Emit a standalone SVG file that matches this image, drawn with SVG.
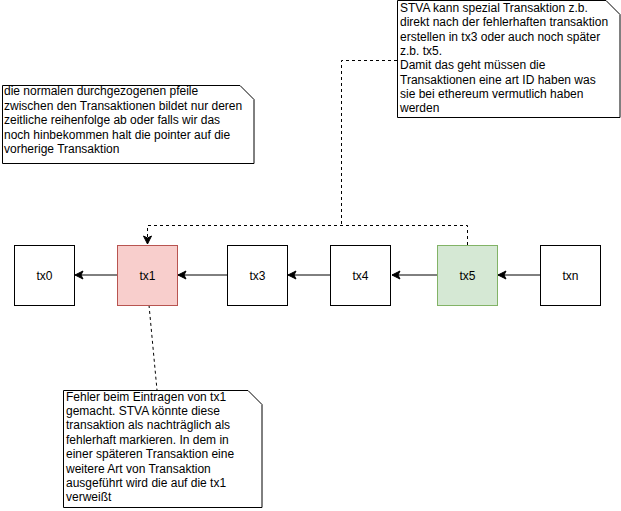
<svg xmlns="http://www.w3.org/2000/svg" width="621" height="511" viewBox="0 0 621 511">
<style>
.box{fill:#ffffff;stroke:#000000;stroke-width:1}
.red{fill:#f8cecc;stroke:#b85450}
.green{fill:#d5e8d4;stroke:#82b366}
.lbl{font-family:"Liberation Sans",Arial,sans-serif;font-size:12px;fill:#000000;text-anchor:middle}
.txt{font-family:"Liberation Sans",Arial,sans-serif;font-size:12px;fill:#000000}
.note{fill:#ffffff;stroke:#000000;stroke-width:1}
.edge{fill:none;stroke:#000000;stroke-width:1}
.dash{stroke-dasharray:3 3}
</style>
<defs>
<marker id="arr" markerUnits="userSpaceOnUse" viewBox="-9 -5 10 10" refX="0" refY="0" markerWidth="10" markerHeight="10" orient="auto">
<path d="M0,0 L-8,-4 L-6,0 L-8,4 Z" fill="#000000" stroke="#000000" stroke-width="1"/>
</marker>
</defs>
<rect width="621" height="511" fill="#ffffff"/>
<g id="connectors">
<path class="edge" d="M117,275 H75" marker-end="url(#arr)"/>
<path class="edge" d="M227,275 H178" marker-end="url(#arr)"/>
<path class="edge" d="M330,275 H288" marker-end="url(#arr)"/>
<path class="edge" d="M437,275 H392" marker-end="url(#arr)"/>
<path class="edge" d="M540,275 H498" marker-end="url(#arr)"/>
<path class="edge dash" d="M467.5,245 V225.5 H147.5 V244" marker-end="url(#arr)"/>
<path class="edge dash" d="M397,60.5 H341.5 V225"/>
<path class="edge dash" d="M149,305 L157,390"/>
</g>
<g id="tx0"><rect class="box" x="14.5" y="245.5" width="60" height="60"/><text class="lbl" x="44.5" y="279.5">tx0</text></g>
<g id="tx1"><rect class="box red" x="117.5" y="245.5" width="60" height="60"/><text class="lbl" x="147.5" y="279.5">tx1</text></g>
<g id="tx3"><rect class="box" x="227.5" y="245.5" width="60" height="60"/><text class="lbl" x="257.5" y="279.5">tx3</text></g>
<g id="tx4"><rect class="box" x="330.5" y="245.5" width="60" height="60"/><text class="lbl" x="360.5" y="279.5">tx4</text></g>
<g id="tx5"><rect class="box green" x="437.5" y="245.5" width="60" height="60"/><text class="lbl" x="467.5" y="279.5">tx5</text></g>
<g id="txn"><rect class="box" x="540.5" y="245.5" width="60" height="60"/><text class="lbl" x="570.5" y="279.5">txn</text></g>
<g id="note1">
<path class="note" d="M397.5,0.5 H606 L620,14.5 V117.5 H397.5 Z"/>
<text class="txt">
<tspan x="400" y="12">STVA kann spezial Transaktion z.b.</tspan>
<tspan x="400" y="26.3">direkt nach der fehlerhaften transaktion</tspan>
<tspan x="400" y="40.6">erstellen in tx3 oder auch noch später</tspan>
<tspan x="400" y="54.9">z.b. tx5.</tspan>
<tspan x="400" y="69.2">Damit das geht müssen die</tspan>
<tspan x="400" y="83.5">Transaktionen eine art ID haben was</tspan>
<tspan x="400" y="97.8">sie bei ethereum vermutlich haben</tspan>
<tspan x="400" y="112.1">werden</tspan>
</text>
</g>
<g id="note2">
<path class="note" d="M2.5,85.5 H240 L254,99.5 V163.5 H2.5 Z"/>
<text class="txt">
<tspan x="4" y="95">die normalen durchgezogenen pfeile</tspan>
<tspan x="4" y="109.5">zwischen den Transaktionen bildet nur deren</tspan>
<tspan x="4" y="124">zeitliche reihenfolge ab oder falls wir das</tspan>
<tspan x="4" y="138.5">noch hinbekommen halt die pointer auf die</tspan>
<tspan x="4" y="153">vorherige Transaktion</tspan>
</text>
</g>
<g id="note3">
<path class="note" d="M63.5,390.5 H248 L262,404.5 V507.5 H63.5 Z"/>
<text class="txt">
<tspan x="66" y="400.5">Fehler beim Eintragen von tx1</tspan>
<tspan x="66" y="414.9">gemacht. STVA könnte diese</tspan>
<tspan x="66" y="429.3">transaktion als nachträglich als</tspan>
<tspan x="66" y="443.7">fehlerhaft markieren. In dem in</tspan>
<tspan x="66" y="458.1">einer späteren Transaktion eine</tspan>
<tspan x="66" y="472.5">weitere Art von Transaktion</tspan>
<tspan x="66" y="486.9">ausgeführt wird die auf die tx1</tspan>
<tspan x="66" y="501.3">verweißt</tspan>
</text>
</g>
</svg>
